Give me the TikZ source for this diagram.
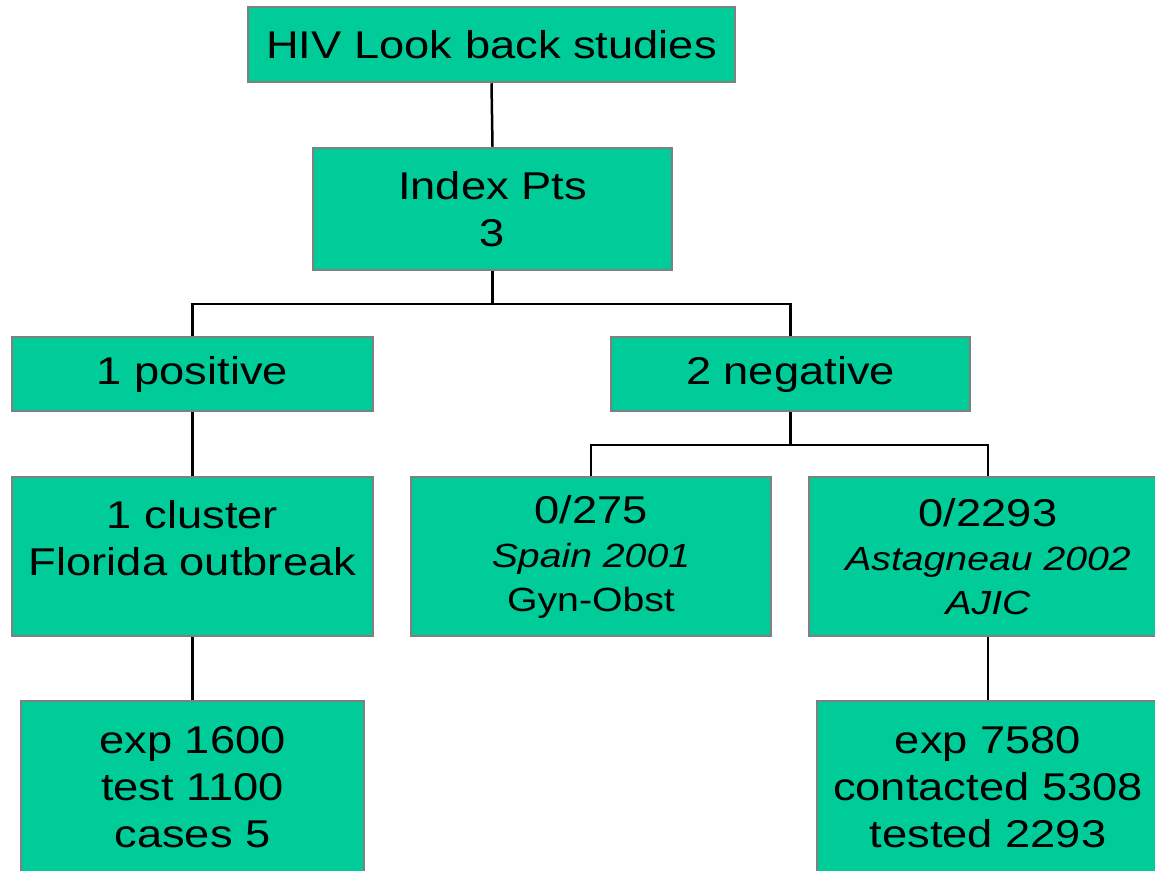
\documentclass[tikz,border=0pt]{standalone}
\usepackage{fontspec}
\setmainfont[FakeStretch=1.17]{Liberation Sans}
\usepackage{xcolor}
\definecolor{lookgreen}{HTML}{00CC99}
\newcommand{\Study}[1]{{\fontsize{33.5}{43}\selectfont #1}}
\tikzset{
  lookbox/.style={draw=black!50, fill=lookgreen, line width=2.5pt, inner sep=0pt,
    align=center, font=\fontsize{38.7}{47}\selectfont},
  lookline/.style={draw=black, line width=2.5pt}
}

\begin{document}
\begin{tikzpicture}[x=1pt,y=1pt]
  \clip (0,0) rectangle (1155,-870);
  \node[lookbox, minimum width=487, minimum height=75] (hiv) at (491.5,-44.5) {HIV Look back studies};
  \node[lookbox, minimum width=359, minimum height=122] (index) at (492.5,-209) {Index Pts\\3};
  \node[lookbox, minimum width=361, minimum height=74] (pos) at (192.5,-374) {1 positive};
  \node[lookbox, minimum width=359, minimum height=74] (neg) at (790.5,-374) {2 negative};
  \node[lookbox, minimum width=361, minimum height=159] (cluster) at (192.5,-556.5) {1 cluster\\Florida outbreak\\[-10pt]\mbox{}};
  \node[lookbox, minimum width=360, minimum height=159] (spain) at (591,-556.5) {0/275\\[-3pt]\Study{\itshape Spain 2001}\\[-3pt]\Study{Gyn-Obst}};
  \node[lookbox, minimum width=358, minimum height=159] (astag) at (988,-556.5) {0/2293\\[-3pt]\Study{\itshape Astagneau 2002}\\[-3pt]\Study{\itshape AJIC}};
  \node[lookbox, minimum width=343, minimum height=172] (florida) at (192.5,-787) {exp 1600\\test 1100\\cases 5};
  \node[lookbox, minimum width=342, minimum height=172] (ajic) at (988,-787) {exp 7580\\contacted 5308\\tested 2293};
  \coordinate (split1) at (492.5,-304);
  \coordinate (split2) at (790.5,-445);
  \draw[lookline] (hiv.south) -- (index.north);
  \draw[lookline] (index.south) -- (split1) -| (pos.north);
  \draw[lookline] (split1) -| (neg.north);
  \draw[lookline] (neg.south) -- (split2) -| (spain.north);
  \draw[lookline] (split2) -| (astag.north);
  \draw[lookline] (pos.south) -- (cluster.north);
  \draw[lookline] (cluster.south) -- (florida.north);
  \draw[lookline] (astag.south) -- (ajic.north);
\end{tikzpicture}
\end{document}
